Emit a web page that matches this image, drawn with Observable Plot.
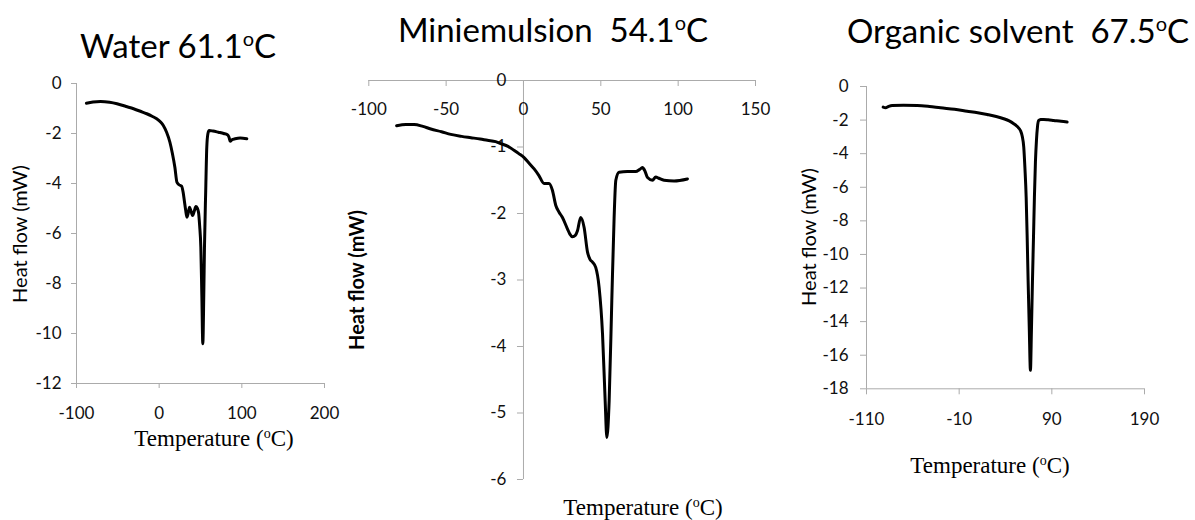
<!DOCTYPE html>
<html><head><meta charset="utf-8">
<script src="https://cdn.jsdelivr.net/npm/d3@7"></script>
<script src="https://cdn.jsdelivr.net/npm/@observablehq/plot@0.6"></script>
<style>
body{margin:0;background:#fff;}
#chart{position:relative;width:1195px;height:520px;overflow:hidden;background:#fff;font-family:Lato,sans-serif;}
.panel{position:absolute;top:0;}
.panel svg{overflow:visible;}
#overlay{position:absolute;left:0;top:0;pointer-events:none;overflow:visible;}
#overlay text{white-space:pre;}
</style></head><body><div id="chart"></div>
<script>
// ---------- data ----------
const waterTemp = [-88, -80, -71, -60, -51, -40, -31, -22, -15, -8, -3, 2, 5, 9, 13, 16, 19, 21.5, 24, 27, 29, 30.5, 32, 33.5, 35, 36.7, 38.5, 40.3, 42.5, 44.4, 46, 47.6, 49, 50.4, 51.6, 52.8, 54, 54.8, 56.3, 57.6, 59, 60.5, 65, 71.7, 78, 82.6, 84.5, 85.9, 88, 91.9, 98, 106];
const waterFlow = [-0.79, -0.74, -0.72, -0.75, -0.81, -0.92, -1.01, -1.12, -1.21, -1.32, -1.41, -1.55, -1.68, -1.95, -2.35, -2.8, -3.35, -3.95, -4.05, -4.1, -4.35, -4.7, -5.05, -5.35, -5.2, -4.95, -5.1, -5.28, -5.1, -4.92, -4.98, -5.15, -5.7, -6.55, -8.45, -10.41, -8.4, -6.55, -4.3, -2.55, -2.0, -1.88, -1.9, -1.95, -2.0, -2.05, -2.15, -2.31, -2.25, -2.21, -2.18, -2.21];

const emulsionTemp = [-82, -76, -70.7, -65, -59.9, -53, -47, -40, -34, -28, -23.3, -18, -14.7, -10, -6.1, -3, 0.4, 3.5, 6.9, 10, 13.3, 16.5, 18.7, 20.9, 23, 25.2, 28.4, 30, 31.7, 33.5, 34.9, 37, 39.2, 41.4, 43, 44.6, 46.7, 48.9, 51.1, 52.8, 53.9, 55.4, 57.1, 58.6, 59.7, 61.8, 67.2, 72.6, 75, 76.9, 78.5, 80.2, 83.4, 85.5, 87.5, 90.9, 97.4, 106];
const emulsionFlow = [-0.68, -0.66, -0.66, -0.69, -0.73, -0.77, -0.81, -0.84, -0.86, -0.88, -0.90, -0.92, -0.95, -0.99, -1.05, -1.10, -1.16, -1.24, -1.33, -1.43, -1.55, -1.55, -1.65, -1.88, -1.98, -2.06, -2.23, -2.31, -2.35, -2.33, -2.26, -2.06, -2.21, -2.58, -2.69, -2.73, -2.81, -3.11, -3.81, -4.81, -5.37, -4.81, -3.31, -2.06, -1.50, -1.38, -1.37, -1.37, -1.34, -1.31, -1.36, -1.46, -1.50, -1.45, -1.47, -1.50, -1.51, -1.48];

const organicTemp = [-92, -89.5, -86, -82.3, -70, -55.3, -42, -30.2, -15, -1.4, 10, 20.2, 30, 38.1, 44, 48.9, 53, 56.1, 58, 59.7, 61, 62.3, 63.4, 64.4, 65.7, 66.9, 68, 69.1, 70.2, 71.2, 72.3, 73.4, 74.5, 75.9, 78, 81.3, 86, 92.1, 100, 106.5];
const organicFlow = [-1.23, -1.27, -1.18, -1.13, -1.12, -1.13, -1.19, -1.27, -1.36, -1.47, -1.56, -1.67, -1.79, -1.92, -2.05, -2.22, -2.4, -2.62, -2.95, -3.61, -4.9, -6.59, -9, -11.55, -14.5, -16.9, -14.5, -11.55, -9, -6.59, -4.5, -3.21, -2.4, -2.02, -1.97, -1.96, -1.98, -2.02, -2.07, -2.12];

const waterXTicks = [-100, 0, 100, 200];
const waterYTicks = [0, -2, -4, -6, -8, -10, -12];
const emulsionXTicks = [-100, -50, 0, 50, 100, 150];
const emulsionYTicks = [0, -1, -2, -3, -4, -5, -6];
const organicXTicks = [-110, -10, 90, 190];
const organicYTicks = [0, -2, -4, -6, -8, -10, -12, -14, -16, -18];

const panelTitles = ["Water 61.1", "Miniemulsion  54.1", "Organic solvent  67.5"];
const yTitle = "Heat flow (mW)";
const xTitle = "Temperature (";

// ---------- style ----------
const AXIS = "#ababab", INK = "#111", LINE = "#000";
const fmt = d => d.toString();
const rows = (t, f) => t.map((v, i) => ({t: v, f: f[i]}));
const baseStyle = {fontFamily: "Lato, sans-serif", fontSize: "17px", color: INK, background: "transparent", overflow: "visible"};
const chart = document.getElementById("chart");
function place(node, left) {
  const d = document.createElement("div");
  d.className = "panel"; d.style.left = left + "px";
  d.appendChild(node); chart.appendChild(d);
}

// Panel 1 : Water
place(Plot.plot({
  width: 340, height: 470, marginLeft: 76, marginRight: 16, marginTop: 83, marginBottom: 87,
  style: baseStyle,
  x: {domain: [-100, 200]}, y: {domain: [-12, 0]},
  marks: [
    Plot.ruleX([-100], {stroke: AXIS}),
    Plot.ruleY([-12], {stroke: AXIS}),
    Plot.axisX({ticks: waterXTicks, tickFormat: fmt, tickSize: 5, tickPadding: 18, stroke: AXIS, fill: INK, label: null}),
    Plot.axisY({ticks: waterYTicks, tickFormat: fmt, tickSize: 5, tickPadding: 10, stroke: AXIS, fill: INK, label: null}),
    Plot.line(rows(waterTemp, waterFlow), {x: "t", y: "f", stroke: LINE, strokeWidth: 3, curve: "monotone-x"})
  ]
}), 0);

// Panel 2 : Miniemulsion (axes crossing at 0)
place(Plot.plot({
  width: 420, height: 500, marginLeft: 28.3, marginRight: 5, marginTop: 80, marginBottom: 21,
  style: baseStyle,
  x: {domain: [-100, 150], axis: null}, y: {domain: [-6, 0], axis: null},
  marks: [
    Plot.ruleY([0], {stroke: AXIS}),
    Plot.ruleX([0], {stroke: AXIS}),
    Plot.ruleX(emulsionXTicks, {x: d => d, y1: 0, y2: 0, insetBottom: -6, stroke: AXIS}),
    Plot.ruleY(emulsionYTicks.filter(d => d !== 0), {y: d => d, x1: 0, x2: 0, insetLeft: -6, stroke: AXIS}),
    Plot.text(emulsionXTicks, {x: d => d, y: 0, dy: 22, lineAnchor: "top", text: fmt, fill: INK}),
    Plot.text(emulsionYTicks, {x: 0, y: d => d, dx: -17, textAnchor: "end", text: fmt, fill: INK}),
    Plot.line(rows(emulsionTemp, emulsionFlow), {x: "t", y: "f", stroke: LINE, strokeWidth: 3, curve: "monotone-x"})
  ]
}), 340);

// Panel 3 : Organic solvent
place(Plot.plot({
  width: 435, height: 470, marginLeft: 106, marginRight: 51, marginTop: 86, marginBottom: 81.7,
  style: baseStyle,
  x: {domain: [-110, 190]}, y: {domain: [-18, 0]},
  marks: [
    Plot.ruleX([-110], {stroke: AXIS}),
    Plot.ruleY([-18], {stroke: AXIS}),
    Plot.axisX({ticks: organicXTicks, tickFormat: fmt, tickSize: 6, tickPadding: 18, stroke: AXIS, fill: INK, label: null}),
    Plot.axisY({ticks: organicYTicks, tickFormat: fmt, tickSize: 6, tickPadding: 12, stroke: AXIS, fill: INK, label: null}),
    Plot.line(rows(organicTemp, organicFlow), {x: "t", y: "f", stroke: LINE, strokeWidth: 3, curve: "monotone-x"})
  ]
}), 760);

// ---------- titles and axis titles ----------
const svg = d3.select(chart).append("svg").attr("id", "overlay").attr("width", 1195).attr("height", 520);
const titleSpecs = [{x: 178, y: 58}, {x: 553, y: 42}, {x: 1018, y: 43}];
titleSpecs.forEach((s, i) => {
  const t = svg.append("text").attr("x", s.x).attr("y", s.y).attr("text-anchor", "middle")
    .attr("font-family", "Lato, sans-serif").attr("font-size", 33).attr("fill", "#000");
  t.append("tspan").text(panelTitles[i]);
  t.append("tspan").attr("font-size", 20).attr("dy", -12).text("o");
  t.append("tspan").attr("dy", 12).text("C");
});
const xTitleSpecs = [{x: 214, y: 446}, {x: 643, y: 515}, {x: 990, y: 473}];
xTitleSpecs.forEach(s => {
  const t = svg.append("text").attr("x", s.x).attr("y", s.y).attr("text-anchor", "middle")
    .attr("font-family", "'Liberation Serif', serif").attr("font-size", 23).attr("fill", "#000");
  t.append("tspan").text(xTitle);
  t.append("tspan").attr("font-size", 14).attr("dy", -8).text("o");
  t.append("tspan").attr("dy", 8).text("C)");
});
const yTitleSpecs = [{x: 27, y: 234, w: 400}, {x: 364, y: 280, w: 700}, {x: 816, y: 237, w: 400}];
yTitleSpecs.forEach(s => {
  svg.append("text").attr("transform", `translate(${s.x},${s.y}) rotate(-90)`).attr("text-anchor", "middle")
    .attr("font-family", "Lato, sans-serif").attr("font-size", 20).attr("font-weight", s.w).attr("fill", "#000")
    .text(yTitle);
});
</script>
</body></html>
